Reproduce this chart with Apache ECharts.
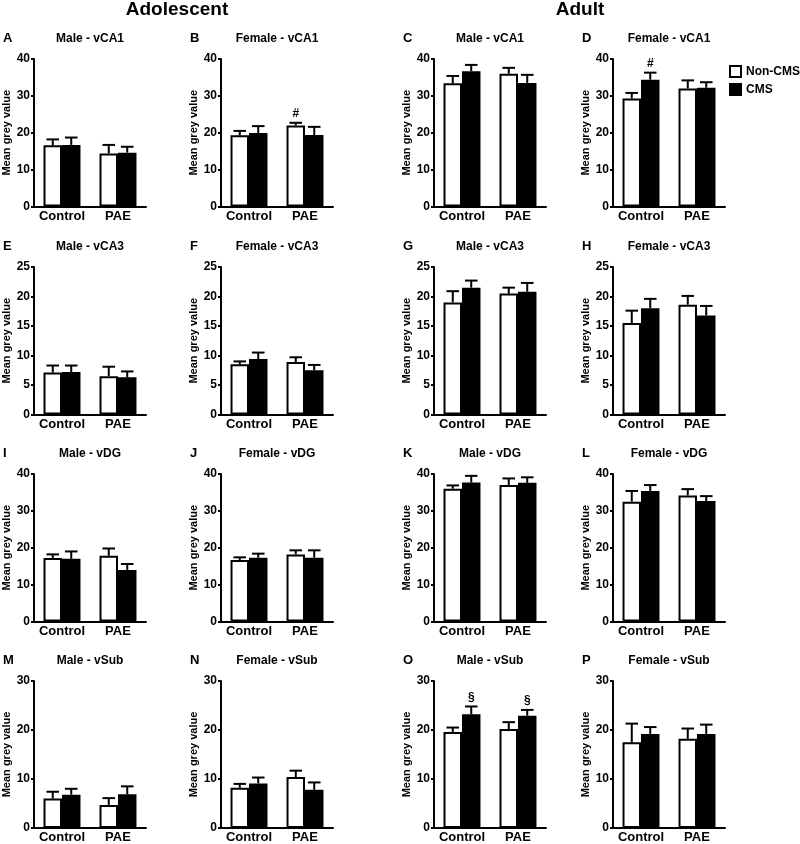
<!DOCTYPE html>
<html><head><meta charset="utf-8">
<script src="https://cdn.jsdelivr.net/npm/echarts@6/dist/echarts.min.js"></script>
<style>html,body{margin:0;padding:0;background:#fff}#chart{width:800px;height:844px}</style>
</head><body><div id="chart"></div>
<script>
// ---------- data ----------
const categories = ['Control', 'PAE'];
const groupNames = ['Non-CMS', 'CMS'];
const headerTexts = ['Adolescent', 'Adult'];
const panelLetters = ['A','B','C','D','E','F','G','H','I','J','K','L','M','N','O','P'];
const panelTitles = [
  'Male - vCA1','Female - vCA1','Male - vCA1','Female - vCA1',
  'Male - vCA3','Female - vCA3','Male - vCA3','Female - vCA3',
  'Male - vDG','Female - vDG','Male - vDG','Female - vDG',
  'Male - vSub','Female - vSub','Male - vSub','Female - vSub'
];
const yMax = [40,40,40,40, 25,25,25,25, 40,40,40,40, 30,30,30,30];
const yInterval = [10,10,10,10, 5,5,5,5, 10,10,10,10, 10,10,10,10];
const yAxisName = 'Mean grey value';
// bar heights [Control, PAE]
const nonCmsMean = [
  [16.6,14.4],[19.3,22.0],[33.4,36.0],[29.3,32.0],
  [7.1,6.5],[8.5,8.9],[19.0,20.5],[15.5,18.6],
  [17.2,17.8],[16.7,18.2],[36.0,37.0],[32.5,34.2],
  [6.0,4.7],[8.2,10.4],[19.6,20.2],[17.5,18.2]
];
// top of error bars [Control, PAE]
const nonCmsUpper = [
  [18.2,16.7],[20.5,22.7],[35.4,37.6],[30.8,34.2],
  [8.3,8.1],[9.0,9.7],[20.9,21.5],[17.6,20.1],
  [18.2,19.8],[17.4,19.3],[36.9,38.8],[35.4,35.9],
  [7.4,6.1],[9.0,11.7],[20.5,21.6],[21.3,20.3]
];
const cmsMean = [
  [16.7,14.6],[19.9,19.4],[36.7,33.5],[34.4,32.2],
  [7.2,6.3],[9.4,7.5],[21.5,20.8],[18.0,16.8],
  [17.0,14.0],[17.3,17.3],[37.7,37.6],[35.4,32.7],
  [6.8,6.9],[9.1,7.8],[23.2,22.9],[19.2,19.2]
];
const cmsUpper = [
  [18.7,16.2],[21.8,21.6],[38.4,35.7],[36.3,33.7],
  [8.3,7.3],[10.5,8.4],[22.7,22.3],[19.6,18.4],
  [19.0,15.6],[18.4,19.3],[39.5,39.1],[37.0,34.0],
  [8.0,8.5],[10.3,9.3],[24.8,24.1],[20.6,21.1]
];
// significance marks
const annotationPanel = [1, 3, 14, 14];
const annotationCategory = [1, 0, 0, 1];
const annotationGroup = [0, 1, 1, 1];
const annotationSymbol = ['#', '#', '\u00A7', '\u00A7'];

// ---------- layout ----------
const FONT = "'Liberation Sans', Arial, sans-serif";
const colLeft = [34, 221, 434, 613];
const rowTop = [59, 267, 474, 681];
const plotW = 112, plotH = 147.5;
const barFrac = 0.33;
const headerCenter = [177, 580];

const chart = echarts.init(document.getElementById('chart'), null, {renderer: 'canvas'});

const grids = [], xAxes = [], yAxes = [], series = [], titles = [];

headerTexts.forEach((t, i) => {
  titles.push({text: t, left: headerCenter[i], top: 0, textAlign: 'center', padding: 0,
    textStyle: {fontFamily: FONT, fontSize: 19, fontWeight: 'bold', color: '#000'}});
});

function errRender(side) {
  return function (params, api) {
    const cat = api.value(0);
    const top = api.coord([cat, api.value(2)]);
    const base = api.coord([cat, api.value(1)]);
    const cw = api.size([1, 0])[0];
    const bw = cw * barFrac;
    const x = top[0] + (side === 0 ? -1 : 1) * bw / 2;
    const cap = bw * 0.34;
    return {type: 'group', children: [
      {type: 'line', shape: {x1: x, y1: base[1], x2: x, y2: top[1]}, style: {stroke: '#000', lineWidth: 2}},
      {type: 'line', shape: {x1: x - cap, y1: top[1], x2: x + cap, y2: top[1]}, style: {stroke: '#000', lineWidth: 2}}
    ]};
  };
}

for (let p = 0; p < 16; p++) {
  const r = Math.floor(p / 4), c = p % 4;
  const left = colLeft[c], top = rowTop[r];
  grids.push({left: left, top: top, width: plotW, height: plotH, containLabel: false});
  xAxes.push({
    type: 'category', gridIndex: p, data: categories,
    axisLine: {show: true, lineStyle: {color: '#000', width: 2}},
    axisTick: {show: false},
    axisLabel: {color: '#000', fontFamily: FONT, fontSize: 13, fontWeight: 'bold', margin: 3, interval: 0},
    splitLine: {show: false}
  });
  yAxes.push({
    type: 'value', gridIndex: p, min: 0, max: yMax[p], interval: yInterval[p],
    name: yAxisName, nameLocation: 'middle', nameRotate: 90, nameGap: 22,
    nameTextStyle: {color: '#000', fontFamily: FONT, fontSize: 11, fontWeight: 'bold'},
    axisLine: {show: true, lineStyle: {color: '#000', width: 2}},
    axisTick: {show: true, length: 3, lineStyle: {color: '#000', width: 2}},
    axisLabel: {color: '#000', fontFamily: FONT, fontSize: 12, fontWeight: 'bold', margin: 4},
    splitLine: {show: false}
  });
  titles.push({text: panelTitles[p], left: left + plotW / 2, top: rowTop[r] - 26, textAlign: 'center', padding: 0,
    textStyle: {fontFamily: FONT, fontSize: 12, fontWeight: 'bold', color: '#000'}});
  titles.push({text: panelLetters[p], left: left - 31, top: rowTop[r] - 27, padding: 0,
    textStyle: {fontFamily: FONT, fontSize: 13, fontWeight: 'bold', color: '#000'}});

  series.push({
    name: groupNames[0], type: 'bar', xAxisIndex: p, yAxisIndex: p,
    data: nonCmsMean[p], barWidth: (barFrac * 100) + '%', barGap: '0%',
    itemStyle: {color: '#fff', borderColor: '#000', borderWidth: 2}
  });
  series.push({
    name: groupNames[1], type: 'bar', xAxisIndex: p, yAxisIndex: p,
    data: cmsMean[p], barWidth: (barFrac * 100) + '%', barGap: '0%',
    itemStyle: {color: '#000', borderColor: '#000', borderWidth: 2}
  });
  series.push({
    name: 'err0', type: 'custom', xAxisIndex: p, yAxisIndex: p, z: 3,
    renderItem: errRender(0), encode: {x: 0, y: [1, 2]},
    data: categories.map((_, i) => [i, nonCmsMean[p][i], nonCmsUpper[p][i]])
  });
  series.push({
    name: 'err1', type: 'custom', xAxisIndex: p, yAxisIndex: p, z: 3,
    renderItem: errRender(1), encode: {x: 0, y: [1, 2]},
    data: categories.map((_, i) => [i, cmsMean[p][i], cmsUpper[p][i]])
  });

  const ann = [];
  annotationPanel.forEach((ap, k) => {
    if (ap === p) {
      const up = annotationGroup[k] === 0 ? nonCmsUpper[p][annotationCategory[k]] : cmsUpper[p][annotationCategory[k]];
      ann.push([annotationCategory[k], up, annotationGroup[k], k]);
    }
  });
  if (ann.length) {
    series.push({
      name: 'ann', type: 'custom', xAxisIndex: p, yAxisIndex: p, z: 4,
      encode: {x: 0, y: 1},
      data: ann,
      renderItem: function (params, api) {
        const cat = api.value(0);
        const pt = api.coord([cat, api.value(1)]);
        const bw = api.size([1, 0])[0] * barFrac;
        const x = pt[0] + (api.value(2) === 0 ? -1 : 1) * bw / 2;
        return {type: 'text', x: x, y: pt[1] - 3,
          style: {text: annotationSymbol[api.value(3)], fill: '#000', align: 'center', verticalAlign: 'bottom',
            font: 'bold 12px ' + FONT}};
      }
    });
  }
}

chart.setOption({
  animation: false,
  backgroundColor: '#fff',
  title: titles,
  legend: {
    data: groupNames, orient: 'vertical', left: 729, top: 65, itemWidth: 11, itemHeight: 11, itemGap: 5,
    icon: 'rect', padding: 0,
    textStyle: {fontFamily: FONT, fontSize: 12, fontWeight: 'bold', color: '#000', padding: [0, 0, 0, 0]},
    selectedMode: false
  },
  grid: grids, xAxis: xAxes, yAxis: yAxes, series: series
});
</script></body></html>
